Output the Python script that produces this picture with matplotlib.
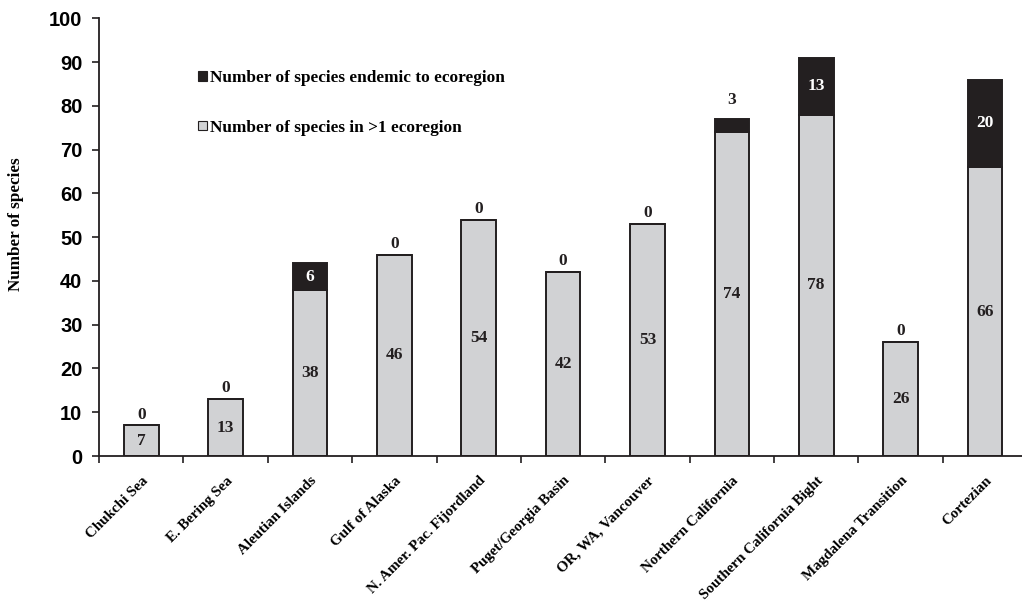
"""
Stacked bar chart: species per ecoregion (endemic vs. shared)
Output: out.png
"""

import numpy as np
import matplotlib.pyplot as plt
from matplotlib.patches import Patch

# ── 1. Data ─────────────────────────────────────────────────────
regions = [
    "Chukchi Sea", "E. Bering Sea", "Aleutian Islands", "Gulf of Alaska",
    "N. Amer. Pac. Fijordland", "Puget/Georgia Basin", "OR, WA, Vancouver",
    "Northern California", "Southern California Bight",
    "Magdalena Transition", "Cortezian",
]
shared = [7, 13, 38, 46, 54, 42, 53, 74, 78, 26, 66]
endemic = [0, 0, 6, 0, 0, 0, 0, 3, 13, 0, 20]

grey = "#d1d2d4"
black = "#231f20"
serif = "Liberation Serif"
sans = "Liberation Sans"

# ── 2. Figure ───────────────────────────────────────────────────
fig = plt.figure(figsize=(10.22, 6.08), dpi=100)
ax = fig.add_axes([0.097, 0.25, 0.908, 0.72])

x = np.arange(len(regions))
w = 0.41
ax.bar(x, shared, width=w, color=grey, edgecolor=black, linewidth=1.4)
ax.bar(x, endemic, width=w, bottom=shared, color=black,
       edgecolor=black, linewidth=1.4)

# labels for shared part (centred)
for xi, s in zip(x, shared):
    ax.text(xi, s / 2, str(s), ha="center", va="center",
            fontsize=12.5, fontweight="bold", family=serif, color=black)

# labels for endemic part
for xi, s, e in zip(x, shared, endemic):
    if e >= 5:
        ax.text(xi, s + e / 2, str(e), ha="center", va="center",
                fontsize=12.5, fontweight="bold", family=serif, color="white")
    else:
        off = 2 if e == 0 else 8
        ax.annotate(str(e), (xi, s + e), xytext=(0, off),
                    textcoords="offset points", ha="center", va="bottom",
                    fontsize=12.5, fontweight="bold", family=serif, color=black)

# ── 3. Axes styling ─────────────────────────────────────────────
ax.set_xlim(-0.5, len(regions) - 0.5)
ax.set_ylim(0, 100)
ax.set_yticks(range(0, 101, 10))
ax.set_xticks(x)
ax.set_xticks(np.arange(-0.5, len(regions), 1.0), minor=True)
ax.set_xticklabels(regions, rotation=45, ha="right", rotation_mode="anchor",
                   fontsize=10.8, fontweight="bold", family=serif)
ax.tick_params(axis="x", which="major", length=0, pad=13)
ax.tick_params(axis="x", which="minor", length=5, width=1.2, direction="out",
               color=black)
ax.tick_params(axis="y", length=5, width=1.2, direction="out", pad=7,
               color=black)
for lab in ax.get_yticklabels():
    lab.set_fontfamily(sans)
    lab.set_fontweight("bold")
    lab.set_fontsize(14.5)

for side in ("top", "right"):
    ax.spines[side].set_visible(False)
for side in ("left", "bottom"):
    ax.spines[side].set_linewidth(1.3)
    ax.spines[side].set_color(black)

ax.set_ylabel("Number of species", fontsize=12.3, fontweight="bold",
              family=serif)
ax.yaxis.set_label_coords(-0.081, 0.53)

# ── 4. Legend ───────────────────────────────────────────────────
handles = [
    Patch(facecolor=black, edgecolor=black, linewidth=0.8),
    Patch(facecolor=grey, edgecolor=black, linewidth=0.8),
]
labels = ["Number of species endemic to ecoregion",
          "Number of species in >1 ecoregion"]
fig.legend(handles, labels, loc="upper left",
           bbox_to_anchor=(198 / 1022, 1 - 70 / 608), frameon=False,
           prop={"family": serif, "weight": "bold", "size": 12.4},
           handlelength=0.5, handleheight=0.5, handletextpad=0.2,
           labelspacing=1.95, borderpad=0, borderaxespad=0)

plt.savefig("out.png", dpi=100)
print("saved: out.png")
